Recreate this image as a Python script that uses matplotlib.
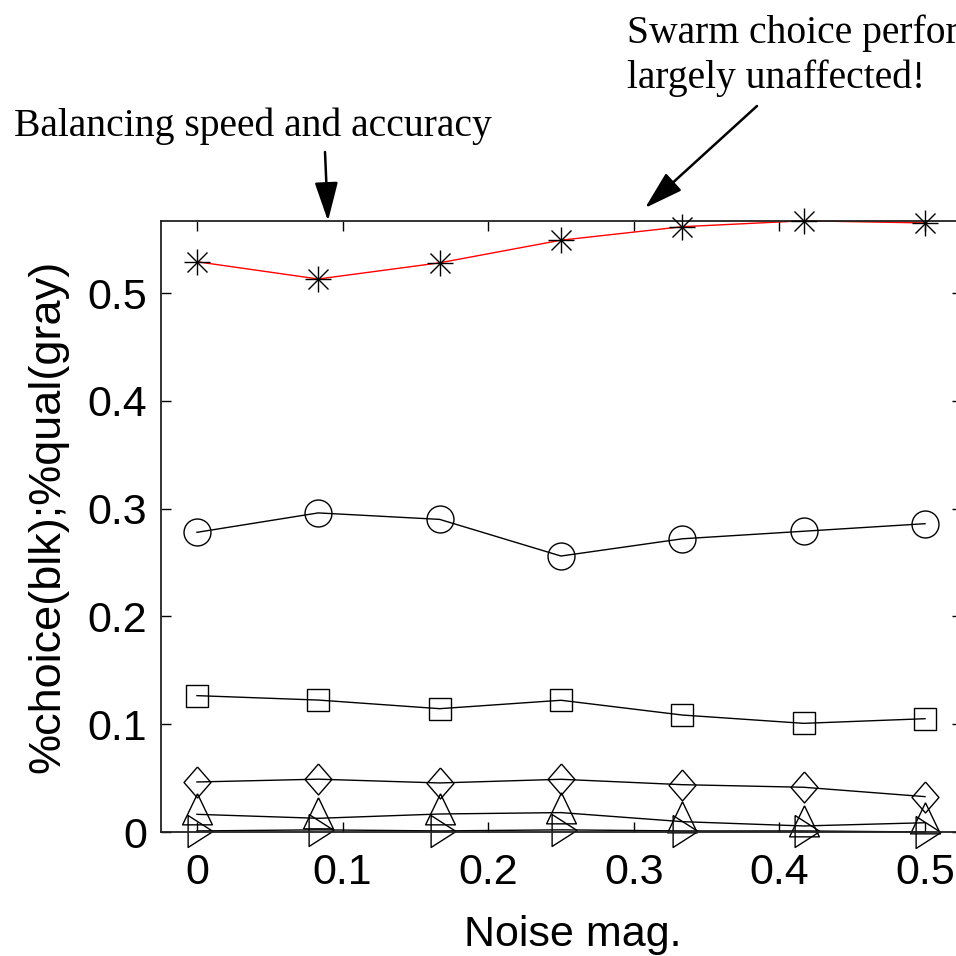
import matplotlib
matplotlib.use("Agg")
import matplotlib.pyplot as plt

noise = [0, 1/12, 2/12, 3/12, 4/12, 5/12, 6/12]
star_vals = [0.529, 0.513, 0.528, 0.549, 0.5615, 0.567, 0.565]
circle_vals = [0.278, 0.296, 0.290, 0.256, 0.272, 0.279, 0.286]
square_vals = [0.1265, 0.1224, 0.1144, 0.1222, 0.1085, 0.1008, 0.1051]
diamond_vals = [0.0464, 0.049, 0.0455, 0.0489, 0.0439, 0.0415, 0.0328]
tri_up_vals = [0.0164, 0.0127, 0.0167, 0.018, 0.0096, 0.0056, 0.0086]
tri_right_vals = [0.001, 0.002, 0.001, 0.002, 0.001, 0.001, 0.0]

xticks = [0, 0.1, 0.2, 0.3, 0.4, 0.5]
xticklabels = ["0", "0.1", "0.2", "0.3", "0.4", "0.5"]
yticks = [0, 0.1, 0.2, 0.3, 0.4, 0.5]
yticklabels = ["0", "0.1", "0.2", "0.3", "0.4", "0.5"]

sans = ["Liberation Sans", "DejaVu Sans"]
serif = ["Liberation Serif", "DejaVu Serif"]

fig = plt.figure(figsize=(9.56, 9.56), dpi=100)
ax = fig.add_axes([161/956, 124/956, 801/956, 611/956])

lw = 1.0
mlw = 1.0

diamond = [(0, 1), (0.87, 0), (0, -1), (-0.87, 0), (0, 1)]
tri_up = [(0, 2/3), (-0.48, -1/3), (0.48, -1/3), (0, 2/3)]
tri_right = [(-9.4, 16), (15.6, 0), (-9.4, -16), (-9.4, 16)]

common = dict(color="black", lw=lw, mfc="none", mec="black", mew=mlw, clip_on=False)
ax.plot(noise, tri_right_vals, marker=tri_right, ms=23, **common)
ax.plot(noise, tri_up_vals, marker=tri_up, ms=29.8, **common)
ax.plot(noise, diamond_vals, marker=diamond, ms=22.3, **common)
ax.plot(noise, square_vals, marker="s", ms=15.6, **common)
ax.plot(noise, circle_vals, marker="o", ms=19.4, **common)
ax.plot(noise, star_vals, color="red", lw=lw, clip_on=False, zorder=2)
ax.plot(noise, star_vals, ls="none", marker="+", ms=19.4, mec="black", mew=mlw, clip_on=False, zorder=3)
ax.plot(noise, star_vals, ls="none", marker="x", ms=13.7, mec="black", mew=mlw, clip_on=False, zorder=3)

ax.set_xlim(-0.0247, 0.5254)
ax.set_ylim(0, 0.5668)
ax.set_xticks(xticks)
ax.set_xticklabels(xticklabels, fontfamily=sans, fontsize=31)
ax.set_yticks(yticks)
ax.set_yticklabels(yticklabels, fontfamily=sans, fontsize=31)
ax.tick_params(direction="in", length=7, width=1, top=True, right=True)
ax.tick_params(axis="x", pad=15)
ax.tick_params(axis="y", pad=10)
for s in ax.spines.values():
    s.set_linewidth(1.3)
    s.set_color("#222222")

ax.set_xlabel("Noise mag.", fontfamily=sans, fontsize=31, labelpad=16)
ax.xaxis.label.set_x(0.514)
ax.set_ylabel("%choice(blk);%qual(gray)", fontfamily=sans, fontsize=32.5, labelpad=14)
ax.yaxis.label.set_y(0.516)

fig.text(14/956, 1 - 136/956, "Balancing speed and accuracy", fontfamily=serif,
         fontsize=28.5, ha="left", va="baseline")
fig.text(627/956, 1 - 43/956, "Swarm choice performance", fontfamily=serif,
         fontsize=28.5, ha="left", va="baseline")
fig.text(627/956, 1 - 88/956, "largely unaffected!", fontfamily=serif,
         fontsize=28.5, ha="left", va="baseline")

arrow = dict(arrowstyle="-|>,head_length=1.0,head_width=0.3", color="black", lw=1.8,
             mutation_scale=24, shrinkA=0, shrinkB=0)
ax.annotate("", xy=(328, 956 - 221), xycoords="figure pixels",
            xytext=(325, 956 - 152), textcoords="figure pixels", arrowprops=arrow)
ax.annotate("", xy=(645, 956 - 208), xycoords="figure pixels",
            xytext=(757, 956 - 106), textcoords="figure pixels", arrowprops=arrow)

fig.savefig("out.png", dpi=100)
